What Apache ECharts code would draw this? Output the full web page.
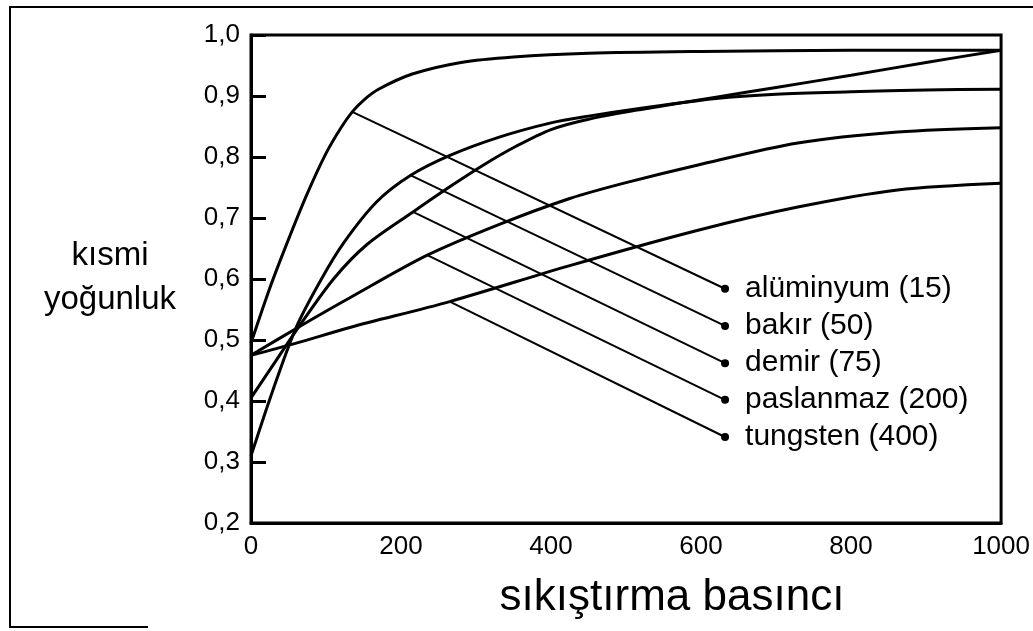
<!DOCTYPE html>
<html>
<head>
<meta charset="utf-8">
<script src="https://cdn.jsdelivr.net/npm/echarts@6/dist/echarts.min.js"></script>
<style>
  html, body { margin: 0; padding: 0; background: #fff; }
  #chart { width: 1033px; height: 631px; }
</style>
</head>
<body>
<div id="chart"></div>
<script>
// sıkıştırma basıncı -> kısmi yoğunluk, okunan noktalar
const aluminyum = [[0,0.495],[25,0.585],[50,0.665],[75,0.74],[100,0.806],[120,0.848],[135,0.874],[150,0.893],[170,0.911],[215,0.936],[280,0.955],[350,0.964],[450,0.970],[600,0.973],[800,0.975],[1000,0.975]];
const bakir = [[0,0.31],[27,0.41],[60,0.52],[93,0.598],[124,0.66],[168,0.727],[213,0.77],[266,0.803],[332,0.833],[400,0.856],[450,0.867],[520,0.880],[620,0.896],[700,0.903],[800,0.907],[900,0.910],[1000,0.911]];
const demir = [[0,0.405],[30,0.46],[60,0.515],[110,0.60],[155,0.657],[216,0.71],[266,0.752],[310,0.787],[354,0.818],[400,0.845],[450,0.862],[520,0.878],[620,0.898],[700,0.914],[800,0.934],[900,0.955],[1000,0.975]];
const paslanmaz = [[0,0.475],[66,0.523],[133,0.57],[235,0.639],[332,0.69],[425,0.732],[500,0.758],[596,0.787],[729,0.823],[862,0.841],[1000,0.848]];
const tungsten = [[0,0.475],[58,0.494],[133,0.521],[265,0.563],[425,0.622],[596,0.68],[729,0.718],[862,0.746],[1000,0.757]];

const labelNames = ['alüminyum (15)', 'bakır (50)', 'demir (75)', 'paslanmaz (200)', 'tungsten (400)'];
const labelStarts = [[135,0.874],[213,0.77],[216,0.71],[235,0.639],[265,0.563]];
const labelX = 632;
const labelY = [0.584, 0.523, 0.462, 0.402, 0.341];

const xTicks = [0, 1000, 200];   // min, max, aralık
const yTicks = [0.2, 1.0, 0.1];

const font = 'Liberation Sans';
let chart = echarts.init(document.getElementById('chart'));

let curves = [aluminyum, bakir, demir, paslanmaz, tungsten].map(function (d, i) {
    return {
        name: labelNames[i],
        type: 'line',
        data: d,
        smooth: 0.3,
        showSymbol: false,
        silent: true,
        lineStyle: { color: '#000', width: 3 },
        z: 3
    };
});

let pointers = labelNames.map(function (n, i) {
    return {
        type: 'line',
        data: [
            { value: labelStarts[i], symbol: 'none' },
            { value: [labelX, labelY[i]], symbol: 'circle', symbolSize: 8,
              label: { show: true, position: 'right', distance: 16, formatter: n,
                       color: '#000', fontSize: 30, fontFamily: font } }
        ],
        silent: true,
        itemStyle: { color: '#000' },
        lineStyle: { color: '#000', width: 2 },
        z: 2
    };
});

option = {
    backgroundColor: '#fff',
    animation: false,
    grid: {
        left: 251, right: 29, top: 35, bottom: 108,
        show: true, borderColor: '#000', borderWidth: 3
    },
    xAxis: {
        type: 'value',
        min: xTicks[0], max: xTicks[1], interval: xTicks[2],
        axisLine: { lineStyle: { color: '#000', width: 3 } },
        axisTick: { show: false },
        splitLine: { show: false },
        axisLabel: { color: '#000', fontSize: 26, fontFamily: font, margin: 11,
                     formatter: function (v) { return String(v); } }
    },
    yAxis: {
        type: 'value',
        min: yTicks[0], max: yTicks[1], interval: yTicks[2],
        axisLine: { show: true, lineStyle: { color: '#000', width: 3 } },
        axisTick: { show: true, inside: true, length: 15, lineStyle: { color: '#000', width: 3 } },
        splitLine: { show: false },
        axisLabel: {
            color: '#000', fontSize: 26, fontFamily: font, margin: 11,
            formatter: function (v) { return v.toFixed(1).replace('.', ','); }
        }
    },
    graphic: [
        { type: 'polyline', silent: true,
          shape: { points: [[1033, 7], [10, 7], [10, 627], [148, 627]] },
          style: { stroke: '#000', lineWidth: 2, fill: null } },
        { type: 'text', silent: true,
          style: { text: 'kısmi\nyoğunluk', x: 110, y: 278, align: 'center', verticalAlign: 'middle',
                   fontSize: 33, lineHeight: 44, fontFamily: font, fill: '#000' } },
        { type: 'text', silent: true,
          style: { text: 'sıkıştırma basıncı', x: 672, y: 598, align: 'center', verticalAlign: 'middle',
                   fontSize: 44, fontFamily: font, fill: '#000' } }
    ],
    series: curves.concat(pointers)
};
chart.setOption(option);
</script>
</body>
</html>
